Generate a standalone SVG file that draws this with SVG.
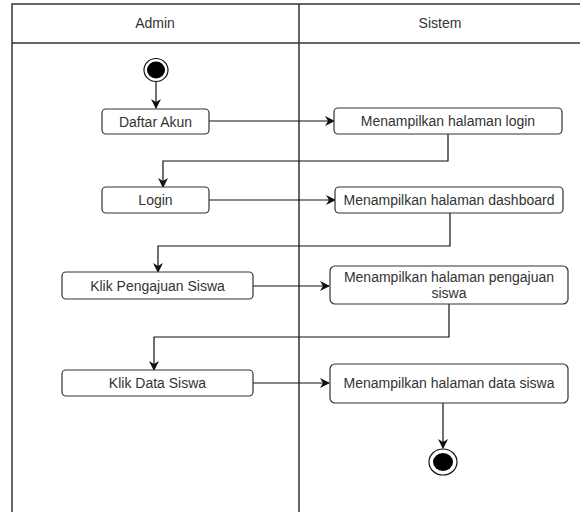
<svg xmlns="http://www.w3.org/2000/svg" width="580" height="512" viewBox="0 0 580 512">
  <style>
    .lane { fill: none; stroke: #333; stroke-width: 1.5; }
    .act { fill: #fff; stroke: #333; stroke-width: 1.2; }
    .lbl { font-family: "Liberation Sans", Arial, sans-serif; font-size: 14px; fill: #333; text-anchor: middle; }
    .edge { fill: none; stroke: #111; stroke-width: 1.2; marker-end: url(#arrow); }
  </style>
  <defs>
    <marker id="arrow" viewBox="0 0 10 10" refX="9" refY="5" markerWidth="10" markerHeight="10" markerUnits="userSpaceOnUse" orient="auto">
      <path d="M0,0 L10,5 L0,10 L3,5 Z" fill="#111"/>
    </marker>
  </defs>
  <rect width="580" height="512" fill="#fff"/>

  <!-- swimlanes -->
  <g id="lanes">
    <path class="lane" d="M12,512 V4 H580 M12,43 H580 M299,4 V512"/>
    <text class="lbl" x="155" y="28">Admin</text>
    <text class="lbl" x="440" y="28">Sistem</text>
  </g>

  <!-- connectors -->
  <g id="connectors">
    <path class="edge" d="M156,82 V108"/>
    <path class="edge" d="M209,121 H334"/>
    <path class="edge" d="M448,134 V161 H163 V187"/>
    <path class="edge" d="M209,200 H335"/>
    <path class="edge" d="M450,213 V246 H158 V272"/>
    <path class="edge" d="M253,286 H329"/>
    <path class="edge" d="M449,304 V337 H154 V370"/>
    <path class="edge" d="M253,383 H329"/>
    <path class="edge" d="M443,403 V448"/>
  </g>

  <g id="start">
    <ellipse cx="156" cy="70" rx="12" ry="11.5" fill="#fff" stroke="#111" stroke-width="1.2"/>
    <ellipse cx="156" cy="70" rx="9" ry="8.5" fill="#000"/>
  </g>

  <g id="daftar-akun">
    <rect class="act" x="102" y="109" width="107" height="25" rx="4"/>
    <text class="lbl" x="155.5" y="126.5">Daftar Akun</text>
  </g>
  <g id="tampil-login">
    <rect class="act" x="334" y="108" width="228" height="26" rx="4"/>
    <text class="lbl" x="448" y="126">Menampilkan halaman login</text>
  </g>
  <g id="login">
    <rect class="act" x="102" y="187" width="107" height="26" rx="4"/>
    <text class="lbl" x="155.5" y="205">Login</text>
  </g>
  <g id="tampil-dashboard">
    <rect class="act" x="335" y="187" width="228" height="26" rx="4"/>
    <text class="lbl" x="449" y="205">Menampilkan halaman dashboard</text>
  </g>
  <g id="klik-pengajuan">
    <rect class="act" x="62" y="272" width="191" height="27" rx="4"/>
    <text class="lbl" x="157.5" y="290.5">Klik Pengajuan Siswa</text>
  </g>
  <g id="tampil-pengajuan">
    <rect class="act" x="330" y="266" width="238" height="38" rx="5"/>
    <text class="lbl" x="449" y="282">Menampilkan halaman pengajuan</text>
    <text class="lbl" x="449" y="298">siswa</text>
  </g>
  <g id="klik-data">
    <rect class="act" x="62" y="370" width="191" height="26" rx="4"/>
    <text class="lbl" x="157.5" y="388">Klik Data Siswa</text>
  </g>
  <g id="tampil-data">
    <rect class="act" x="330" y="364" width="238" height="39" rx="5"/>
    <text class="lbl" x="449" y="388">Menampilkan halaman data siswa</text>
  </g>

  <g id="end">
    <ellipse cx="443" cy="462" rx="14" ry="13" fill="#fff" stroke="#111" stroke-width="1.2"/>
    <ellipse cx="443" cy="462" rx="10" ry="9" fill="#000"/>
  </g>
</svg>
